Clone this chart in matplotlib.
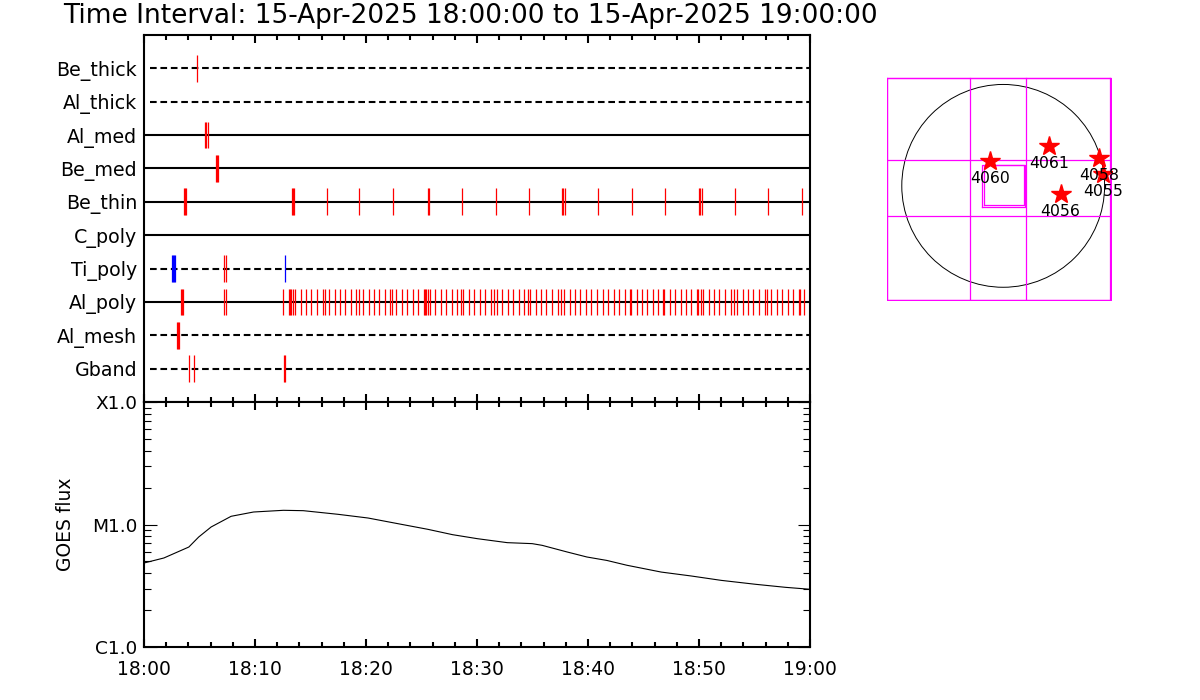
import numpy as np
import matplotlib
matplotlib.use("Agg")
import matplotlib.pyplot as plt
from matplotlib.patches import Circle

plt.rcParams['font.family'] = ['DejaVu Sans']

# time axis in minutes after 18:00
title = "Time Interval: 15-Apr-2025 18:00:00 to 15-Apr-2025 19:00:00"
time_ticks = [0, 10, 20, 30, 40, 50, 60]
time_labels = ["18:00", "18:10", "18:20", "18:30", "18:40", "18:50", "19:00"]

# channels, bottom to top, and whether the baseline is dashed
channels = ["Gband", "Al_mesh", "Al_poly", "Ti_poly", "C_poly",
            "Be_thin", "Be_med", "Al_med", "Al_thick", "Be_thick"]
dashed = [True, True, False, True, False, False, False, False, True, True]

# observation times (minutes) per channel
obs_red = {
    "Be_thick": [4.8],
    "Al_thick": [],
    "Al_med": [5.5, 5.6, 5.8],
    "Be_med": [6.45, 6.55, 6.7],
    "Be_thin": [3.6, 3.7, 3.8, 13.3, 13.4, 13.5, 16.46, 19.4, 22.46, 25.56, 25.7,
                28.68, 31.68, 34.66, 37.65, 37.75, 37.95, 40.93, 43.94, 46.96,
                50.0, 50.1, 50.3, 53.27, 56.24, 59.25],
    "C_poly": [],
    "Ti_poly": [7.25, 7.35],
    "Al_poly": [3.36, 3.45, 3.54, 7.25, 7.35,
                12.55, 13.05, 13.15, 13.2, 13.45, 13.63, 14.17, 14.62, 15.07,
                15.61, 16.15, 16.33, 16.69, 17.23, 17.68, 18.14, 18.68, 19.13,
                19.40, 19.76, 20.30, 20.75, 21.20, 21.74, 22.19, 22.37, 22.73,
                23.27, 23.72, 24.26, 24.71, 25.25, 25.35, 25.45, 25.61, 25.79,
                26.24, 26.78, 27.23, 27.77, 28.23, 28.59, 28.77, 29.31, 29.76,
                30.30, 30.75, 31.29, 31.56, 31.83, 32.28, 32.82, 33.27, 33.81,
                34.26, 34.62, 34.80, 35.34, 35.79, 36.24, 36.78, 37.32, 37.59,
                37.86, 38.41, 38.86, 39.31, 39.85, 40.30, 40.84, 41.38, 41.83,
                42.37, 42.82, 43.36, 43.81, 43.90, 44.44, 44.89, 45.34, 45.88,
                46.33, 46.78, 46.87, 47.41, 47.86, 48.41, 48.86, 49.31, 49.85,
                49.94, 50.21, 50.39, 50.93, 51.38, 51.83, 52.37, 52.91, 53.18,
                53.45, 53.99, 54.44, 54.89, 55.43, 55.97, 56.15, 56.51, 57.05,
                57.50, 58.04, 58.50, 59.04, 59.13, 59.49],
    "Al_mesh": [3.0, 3.09, 3.18],
    "Gband": [4.08, 4.5, 12.62, 12.72],
}
obs_blue = {
    "Ti_poly": [2.55, 2.64, 2.73, 2.82, 12.73],
}

# GOES flux (W/m^2)
goes_t = [0, 1.79, 4.04, 4.93, 6.05, 7.85, 9.87, 12.56, 14.35, 17.49, 20.18,
          22.87, 25.56, 27.8, 30.04, 32.73, 34.97, 35.87, 38.11, 39.9, 41.7,
          43.5, 46.6, 49.3, 52.0, 55.1, 57.8, 60]
goes_flux = [4.85e-6, 5.33e-6, 6.55e-6, 7.91e-6, 9.55e-6, 1.167e-5, 1.265e-5,
             1.306e-5, 1.297e-5, 1.211e-5, 1.130e-5, 1.016e-5, 9.14e-6, 8.26e-6,
             7.66e-6, 7.11e-6, 6.98e-6, 6.76e-6, 5.97e-6, 5.43e-6, 5.09e-6,
             4.65e-6, 4.09e-6, 3.80e-6, 3.50e-6, 3.25e-6, 3.07e-6, 2.96e-6]
goes_levels = [1e-6, 1e-5, 1e-4]
goes_labels = ["C1.0", "M1.0", "X1.0"]

# map panel (arcsec)
sun_radius = 960
grid_x = [-1097, -312, 218, 1010]
grid_y = [-1076, -287, 243, 1025]
outer2 = (-1097, -1081, 1016, 1025)
inner_box = (-204, -199, 205, 202)
inner_box2 = (-185, -183, 193, 202)
ar_num = ["4060", "4061", "4058", "4055", "4056"]
ar_x = [-126, 432, 908, 946, 543]
ar_y = [237, 376, 265, 117, -79]

fig = plt.figure(figsize=(12, 7), dpi=100)
fig.text(63 / 1200, 1 - 16 / 700, title, fontsize=19, va='center', ha='left')

# --- top panel: observation timeline ---
ax = fig.add_axes([0.12, 0.4257, 0.555, 0.5243])
for i, name in enumerate(channels):
    if dashed[i]:
        ax.plot([0.5, 60], [i, i], color='black', lw=1.5, dashes=(3.2, 1.8))
    else:
        ax.plot([0, 60], [i, i], color='black', lw=1.5)
    if obs_red.get(name):
        ax.vlines(obs_red[name], i - 0.4, i + 0.4, colors='red', lw=0.9)
    if obs_blue.get(name):
        ax.vlines(obs_blue[name], i - 0.4, i + 0.4, colors='blue', lw=0.9)
ax.set_xlim(0, 60)
ax.set_ylim(-1, 10)
ax.set_yticks(range(len(channels)))
ax.set_yticklabels(channels, fontsize=13.7)
ax.tick_params(axis='y', length=0, pad=5)
ax.set_xticks(time_ticks)
ax.set_xticks(np.arange(0, 61, 2), minor=True)
ax.tick_params(axis='x', which='both', direction='in', top=True, bottom=True,
               labelbottom=False, width=1.5)
ax.tick_params(axis='x', which='major', length=6)
ax.tick_params(axis='x', which='minor', length=3.5)
for s in ax.spines.values():
    s.set_linewidth(1.5)

# --- bottom panel: GOES flux ---
ax2 = fig.add_axes([0.12, 0.0757, 0.555, 0.35])
ax2.plot(goes_t, goes_flux, color='black', lw=0.8)
ax2.set_yscale('log')
ax2.set_xlim(0, 60)
ax2.set_ylim(1e-6, 1e-4)
ax2.set_xticks(time_ticks)
ax2.set_xticklabels(time_labels, fontsize=13.5)
ax2.set_xticks(np.arange(0, 61, 2), minor=True)
ax2.set_yticks(goes_levels)
ax2.set_yticklabels(goes_labels, fontsize=13.3)
ax2.yaxis.set_minor_locator(matplotlib.ticker.LogLocator(base=10, subs=np.arange(2, 10)))
ax2.yaxis.set_minor_formatter(matplotlib.ticker.NullFormatter())
ax2.tick_params(axis='x', which='both', direction='in', top=True, bottom=True,
                width=1.5, pad=9)
ax2.tick_params(axis='x', which='major', length=6)
ax2.tick_params(axis='x', which='minor', length=3.5)
ax2.tick_params(axis='y', which='both', direction='in', left=True, right=True,
                width=0.8, pad=5)
ax2.tick_params(axis='y', which='major', length=9)
ax2.tick_params(axis='y', which='minor', length=5)
ax2.set_ylabel("GOES flux", fontsize=13.5, labelpad=12)
for s in ax2.spines.values():
    s.set_linewidth(1.5)

# --- map panel ---
ax3 = fig.add_axes([887 / 1200, 1 - 301 / 700, 225 / 1200, 225 / 700])
ax3.set_xlim(-1100, 1030)
ax3.set_ylim(-1090, 1040)
ax3.axis('off')
mag = '#ff00ff'
for gx in grid_x:
    ax3.plot([gx, gx], [grid_y[0], grid_y[-1]], color=mag, lw=0.9)
for gy in grid_y:
    ax3.plot([grid_x[0], grid_x[-1]], [gy, gy], color=mag, lw=0.9)
x0, y0, x1, y1 = outer2
ax3.plot([x0, x1, x1, x0, x0], [y0, y0, y1, y1, y0], color=mag, lw=0.9)
for bx in (inner_box, inner_box2):
    x0, y0, x1, y1 = bx
    ax3.plot([x0, x1, x1, x0, x0], [y0, y0, y1, y1, y0], color=mag, lw=0.9)
ax3.add_patch(Circle((0, 0), sun_radius, fill=False, color='black', lw=0.7))
ax3.plot(ar_x, ar_y, linestyle='none', marker='*', color='red', markersize=15)
for n, x, y in zip(ar_num, ar_x, ar_y):
    ax3.text(x, y - 95, n, fontsize=11.3, ha='center', va='top')

fig.savefig("out.png", dpi=100)
